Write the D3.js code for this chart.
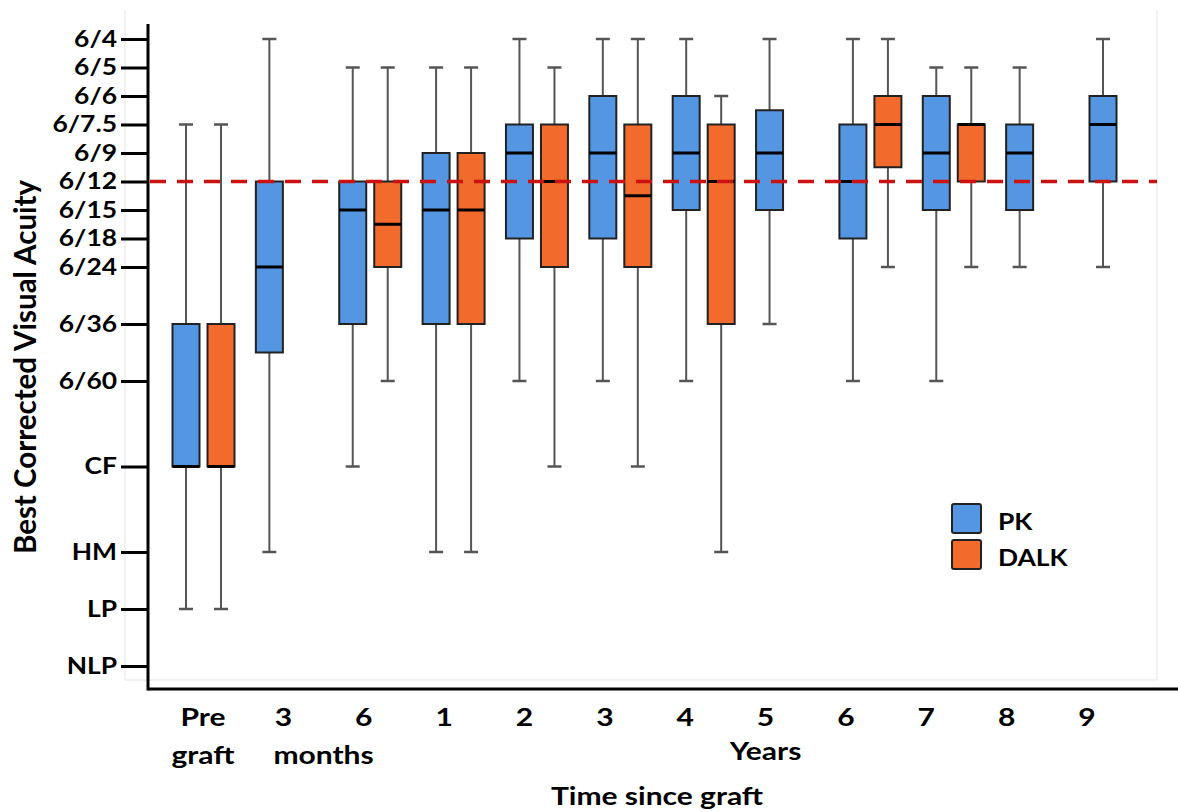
<!DOCTYPE html>
<html>
<head>
<meta charset="utf-8">
<script src="https://cdn.jsdelivr.net/npm/d3@7"></script>
<style>
  body { margin: 0; background: #fff; }
  svg text { font-family: Lato, "Open Sans", sans-serif; font-weight: 700; fill: #000; }
</style>
</head>
<body>
<svg id="chart" width="1178" height="812"></svg>
<script>
// time points along the x axis
const timepoints = ["Pre graft", "3 months", "6 months", "1 year", "2 years", "3 years",
  "4 years", "5 years", "6 years", "7 years", "8 years", "9 years"];
const tickLines = [["Pre", "graft"], ["3"], ["6"], ["1"], ["2"], ["3"], ["4"], ["5"], ["6"], ["7"], ["8"], ["9"]];

// acuity ticks (logMAR equivalents)
const acuityLabels = ["6/4", "6/5", "6/6", "6/7.5", "6/9", "6/12", "6/15", "6/18", "6/24",
  "6/36", "6/60", "CF", "HM", "LP", "NLP"];
const acuityLogMAR = [-0.2, -0.1, 0, 0.1, 0.2, 0.3, 0.4, 0.5, 0.6, 0.8, 1.0, 1.3, 1.6, 1.8, 2.0];
const targetLogMAR = 0.3; // 6/12

// PK
const pkBest   = [0.1, -0.2, -0.1, -0.1, -0.2, -0.2, -0.2, -0.2, -0.2, -0.1, -0.1, -0.2];
const pkQ1     = [0.8, 0.3, 0.3, 0.2, 0.1, 0.0, 0.0, 0.05, 0.1, 0.0, 0.1, 0.0];
const pkMedian = [1.3, 0.6, 0.4, 0.4, 0.2, 0.2, 0.2, 0.2, 0.3, 0.2, 0.2, 0.1];
const pkQ3     = [1.3, 0.9, 0.8, 0.8, 0.5, 0.5, 0.4, 0.4, 0.5, 0.4, 0.4, 0.3];
const pkWorst  = [1.8, 1.6, 1.3, 1.6, 1.0, 1.0, 1.0, 0.8, 1.0, 1.0, 0.6, 0.6];

// DALK
const dalkBest   = [0.1, null, -0.1, -0.1, -0.1, -0.2, 0.0, null, -0.2, -0.1, null, null];
const dalkQ1     = [0.8, null, 0.3, 0.2, 0.1, 0.1, 0.1, null, 0.0, 0.1, null, null];
const dalkMedian = [1.3, null, 0.45, 0.4, 0.3, 0.35, 0.3, null, 0.1, 0.1, null, null];
const dalkQ3     = [1.3, null, 0.6, 0.8, 0.6, 0.6, 0.8, null, 0.25, 0.3, null, null];
const dalkWorst  = [1.8, null, 1.0, 1.6, 1.3, 1.3, 1.6, null, 0.6, 0.6, null, null];

const seriesNames = ["PK", "DALK"];
const colors = { PK: "#5596e2", DALK: "#f26a2c" };

const svg = d3.select("svg#chart");
const axisX = 148, axisY = 689;
const sx = 1.2; // the lettering is a bit wide in the original

const yScale = d3.scaleLinear([-0.2, 2.0], [39, 666]);
const xScale = d3.scalePoint(timepoints, [186, 1103]);
const labelScale = d3.scalePoint(timepoints, [203, 1087]);
const dalkOffset = 35;
const boxW = 27, capW = 14;

const toRows = (name, best, q1, med, q3, worst, dx) =>
  timepoints.map((t, i) => ({ name, t, best: best[i], q1: q1[i], med: med[i], q3: q3[i], worst: worst[i], dx }))
    .filter((d) => d.med !== null);

const rows = toRows("PK", pkBest, pkQ1, pkMedian, pkQ3, pkWorst, 0)
  .concat(toRows("DALK", dalkBest, dalkQ1, dalkMedian, dalkQ3, dalkWorst, dalkOffset));

const wideText = (sel, x, y, size, txt, anchor = "middle") =>
  sel.append("text")
    .attr("transform", `translate(${x},${y}) scale(${sx},1)`)
    .attr("text-anchor", anchor)
    .attr("font-size", size)
    .text(txt);

// faint plot frame
const frame = svg.append("g").attr("stroke", "#e4e4e4").attr("stroke-width", 1);
frame.append("line").attr("x1", 125).attr("x2", 125).attr("y1", 10).attr("y2", 680);
frame.append("line").attr("x1", 125).attr("x2", 1157).attr("y1", 680).attr("y2", 680);
frame.append("line").attr("x1", 1157).attr("x2", 1157).attr("y1", 10).attr("y2", 680);

// y axis
const leftAxis = d3.axisLeft(yScale)
  .tickValues(acuityLogMAR)
  .tickFormat((d, i) => acuityLabels[i])
  .tickSize(27)
  .tickPadding(4)
  .tickSizeOuter(0);
const yAxisG = svg.append("g").attr("transform", `translate(${axisX},0)`).call(leftAxis);
yAxisG.select(".domain").remove();
yAxisG.selectAll(".tick line").attr("stroke", "#000").attr("stroke-width", 3);
yAxisG.selectAll(".tick text")
  .attr("font-size", 22)
  .attr("fill", "#000")
  .attr("x", -31 / sx)
  .attr("transform", `scale(${sx},1)`);

svg.append("line").attr("x1", axisX).attr("x2", axisX).attr("y1", 24).attr("y2", axisY + 1.5)
  .attr("stroke", "#000").attr("stroke-width", 3);
svg.append("line").attr("x1", axisX).attr("x2", 1178).attr("y1", axisY).attr("y2", axisY)
  .attr("stroke", "#000").attr("stroke-width", 3);

// x labels
const xl = svg.append("g");
xl.selectAll("g.xtick")
  .data(timepoints)
  .join("g")
  .attr("class", "xtick")
  .attr("transform", (d) => `translate(${labelScale(d)},726) scale(${sx},1)`)
  .append("text")
  .attr("text-anchor", "middle")
  .attr("font-size", 25)
  .selectAll("tspan")
  .data((d, i) => tickLines[i])
  .join("tspan")
  .attr("x", 0)
  .attr("dy", (d, i) => (i === 0 ? 0 : 38))
  .text((d) => d);

wideText(xl, (labelScale("3 months") + labelScale("6 months")) / 2, 764, 25, "months");
wideText(xl, labelScale("5 years"), 760, 25, "Years");
wideText(xl, 657, 805, 25, "Time since graft");

svg.append("text")
  .attr("transform", "translate(36,367) rotate(-90) scale(1,1.05)")
  .attr("text-anchor", "middle").attr("font-size", 29.5).text("Best Corrected Visual Acuity");

// boxes
const plot = svg.append("g");
const g = plot.selectAll("g.box").data(rows).join("g").attr("class", "box")
  .attr("transform", (d) => `translate(${xScale(d.t) + d.dx},0)`);

g.append("line")
  .attr("y1", (d) => yScale(d.best)).attr("y2", (d) => yScale(d.worst))
  .attr("stroke", "#555").attr("stroke-width", 2);
g.selectAll("line.cap").data((d) => [d.best, d.worst]).join("line").attr("class", "cap")
  .attr("x1", -capW / 2).attr("x2", capW / 2)
  .attr("y1", (v) => yScale(v)).attr("y2", (v) => yScale(v))
  .attr("stroke", "#555").attr("stroke-width", 2.5);
g.append("rect")
  .attr("x", -boxW / 2).attr("width", boxW)
  .attr("y", (d) => yScale(d.q1)).attr("height", (d) => yScale(d.q3) - yScale(d.q1))
  .attr("fill", (d) => colors[d.name]).attr("stroke", "#222").attr("stroke-width", 2);
g.append("line")
  .attr("x1", -boxW / 2).attr("x2", boxW / 2)
  .attr("y1", (d) => yScale(d.med)).attr("y2", (d) => yScale(d.med))
  .attr("stroke", "#000").attr("stroke-width", 3);

// 6/12 reference line
svg.append("line")
  .attr("x1", axisX + 2).attr("x2", 1157)
  .attr("y1", yScale(targetLogMAR)).attr("y2", yScale(targetLogMAR))
  .attr("stroke", "#cc1111").attr("stroke-width", 3.5).attr("stroke-dasharray", "16,11");

// legend
const legend = svg.append("g").attr("transform", "translate(952,504)");
const li = legend.selectAll("g").data(seriesNames).join("g")
  .attr("transform", (d, i) => `translate(0,${i * 36})`);
li.append("rect").attr("width", 29).attr("height", 29).attr("rx", 2)
  .attr("fill", (d) => colors[d]).attr("stroke", "#222").attr("stroke-width", 2);
li.append("text").attr("transform", `translate(46,26) scale(${sx},1)`)
  .attr("font-size", 22).text((d) => d);
</script>
</body>
</html>
